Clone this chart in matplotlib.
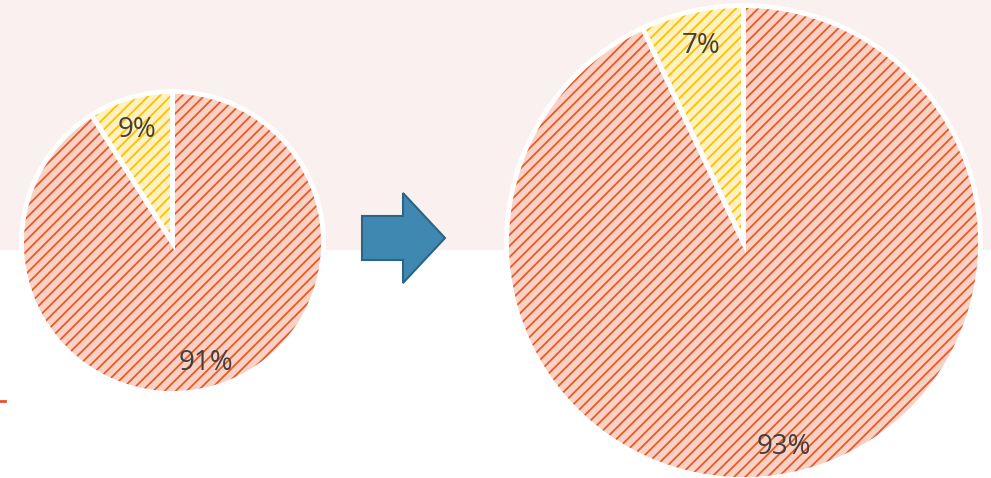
import matplotlib
matplotlib.use("Agg")
import matplotlib.pyplot as plt
from matplotlib.patches import FancyArrow, Rectangle

# ---- data ----
categories = ["Yellow share", "Red share"]
before_values = [9, 91]
after_values = [7, 93]
before_labels = ["9%", "91%"]
after_labels = ["7%", "93%"]

base_colors = ["#FFF1C0", "#F9D2C4"]
hatch_colors = ["#FFC000", "#E9582D"]

W, H = 991, 478
plt.rcParams['hatch.linewidth'] = 1.3
fig = plt.figure(figsize=(W / 100, H / 100), dpi=100)
ax = fig.add_axes([0, 0, 1, 1])
ax.set_xlim(0, W)
ax.set_ylim(0, H)
ax.set_aspect('equal')
ax.axis('off')

# background bands
ax.add_patch(Rectangle((0, H - 250), W, 250, facecolor="#FAF0EF", edgecolor="none", zorder=0))

def draw_pie(values, labels, center, radius, label_pos):
    # base fill
    ax.pie(values, colors=base_colors, startangle=90, counterclock=True,
           center=center, radius=radius, frame=True,
           wedgeprops=dict(linewidth=0, zorder=1))
    # hatch overlay
    wedges, _ = ax.pie(values, colors=["none", "none"], startangle=90, counterclock=True,
                       center=center, radius=radius, frame=True,
                       wedgeprops=dict(linewidth=0, hatch="///", zorder=2))
    for w, hc in zip(wedges, hatch_colors):
        w.set_facecolor("none")
        w.set_edgecolor(hc)
        w.set_linewidth(0)
    # white borders
    ax.pie(values, colors=["none", "none"], startangle=90, counterclock=True,
           center=center, radius=radius, frame=True,
           wedgeprops=dict(linewidth=3.5, edgecolor="white", zorder=3))
    for lab, (x, y) in zip(labels, label_pos):
        ax.text(x, H - y, lab, ha="center", va="center", fontsize=20,
                color="#404040", family=["Open Sans", "DejaVu Sans"], zorder=5)

draw_pie(before_values, before_labels, (172.5, H - 242.5), 151,
         [(137, 130), (206, 363)])
draw_pie(after_values, after_labels, (743.5, H - 242.5), 237,
         [(701, 46), (784, 447)])

ax.set_xlim(0, W)
ax.set_ylim(0, H)
ax.axis('off')

# arrow
ax.add_patch(FancyArrow(362, H - 238, 83, 0, width=44, head_width=90, head_length=42,
                        length_includes_head=True, facecolor="#3F88B1",
                        edgecolor="#2D6486", linewidth=1.5, zorder=4))

# small orange tick at left edge
ax.plot([0, 5], [H - 401, H - 401], color="#E8542A", linewidth=2, zorder=4)

fig.savefig("out.png", dpi=100)
